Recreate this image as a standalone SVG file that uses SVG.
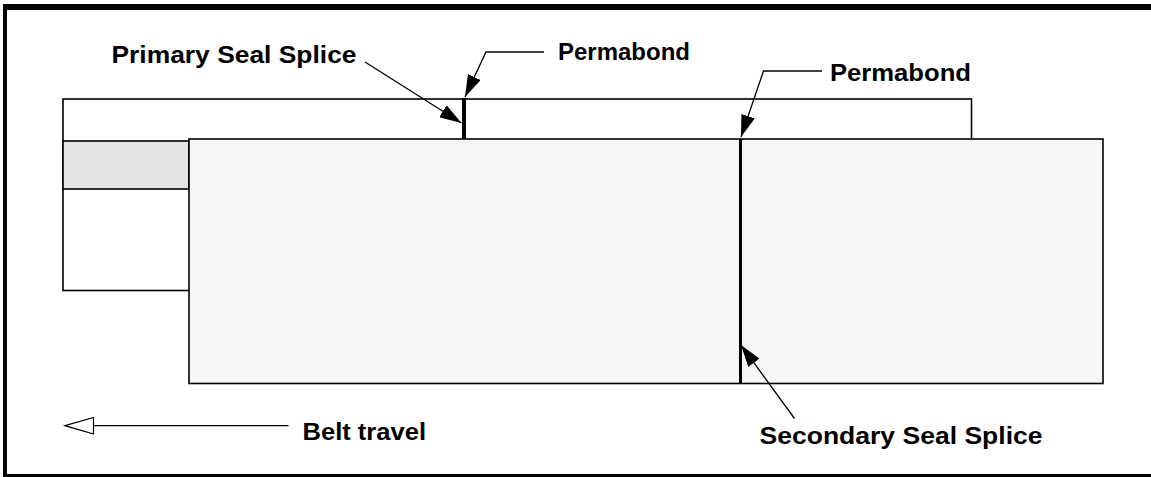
<svg xmlns="http://www.w3.org/2000/svg" width="1151" height="477" viewBox="0 0 1151 477">
<style>
.lbl{font-family:"Liberation Sans",Arial,sans-serif;font-weight:bold;font-size:24px;fill:#000}
.shape{stroke:#000;stroke-width:1.6}
.lead{stroke:#000;stroke-width:1.3;fill:none}
</style>
<defs>
<marker id="ah" markerUnits="userSpaceOnUse" markerWidth="24" markerHeight="14" refX="22" refY="7" orient="auto">
<path d="M0,0 L22,7 L0,14 Z" fill="#000"/>
</marker>
</defs>
<rect width="1151" height="477" fill="#fff"/>
<g id="frame">
<rect x="3" y="4" width="1148" height="6" fill="#000"/>
<rect x="3" y="4" width="4" height="473" fill="#000"/>
<rect x="3" y="474" width="1148" height="3" fill="#000"/>
</g>
<g id="back-belt">
<rect class="shape" x="63" y="99" width="908.5" height="191.5" fill="#fff"/>
<rect class="shape" x="63" y="141" width="126" height="48" fill="#e4e4e4"/>
<line x1="464" y1="98" x2="464" y2="139" stroke="#000" stroke-width="4"/>
</g>
<g id="front-belt">
<rect class="shape" x="189" y="139" width="914" height="244.5" fill="#f6f6f6"/>
<line x1="740.5" y1="139" x2="740.5" y2="383.5" stroke="#000" stroke-width="3"/>
</g>
<g id="connectors">
<path class="lead" d="M365,62 L461.5,123" marker-end="url(#ah)"/>
<path class="lead" d="M544,52 L486,52 L465,97" marker-end="url(#ah)"/>
<path class="lead" d="M822,71 L763.5,71 L741,137" marker-end="url(#ah)"/>
<path class="lead" d="M794.5,418.5 L741,345" marker-end="url(#ah)"/>
<line x1="93.5" y1="425.7" x2="288.5" y2="425.7" stroke="#000" stroke-width="1.3"/>
<path d="M65,425.7 L93.5,417.5 L93.5,434 Z" fill="#fff" stroke="#000" stroke-width="1.2"/>
</g>
<g id="labels">
<text class="lbl" x="111.5" y="62.5" textLength="245" lengthAdjust="spacingAndGlyphs">Primary Seal Splice</text>
<text class="lbl" x="558" y="60" textLength="132" lengthAdjust="spacingAndGlyphs">Permabond</text>
<text class="lbl" x="830" y="81" textLength="141" lengthAdjust="spacingAndGlyphs">Permabond</text>
<text class="lbl" x="302.5" y="439.5" textLength="123.5" lengthAdjust="spacingAndGlyphs">Belt travel</text>
<text class="lbl" x="759.5" y="443.5" textLength="283" lengthAdjust="spacingAndGlyphs">Secondary Seal Splice</text>
</g>
</svg>
